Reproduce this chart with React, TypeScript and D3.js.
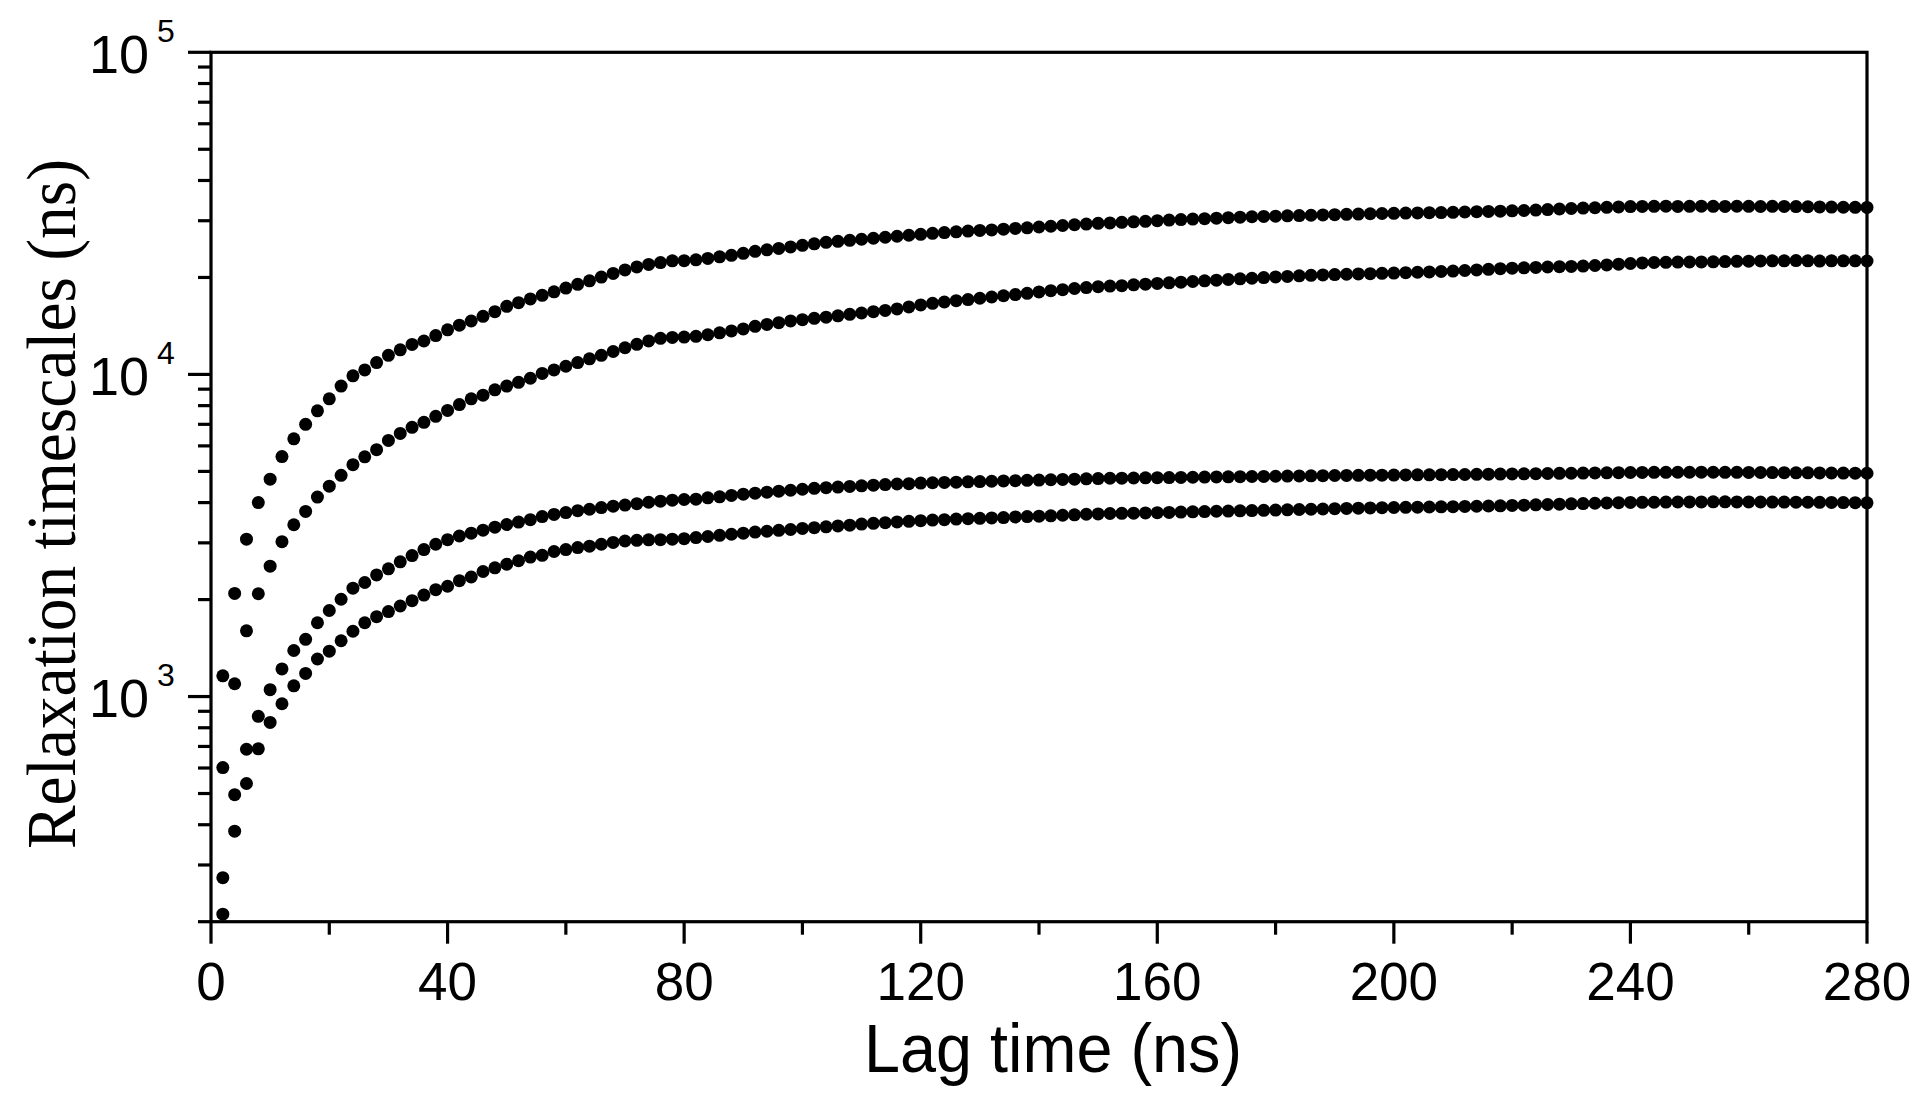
import React from "react";
import * as d3 from "d3";

// Lag times (ns): one sample every 2 ns from 2 to 280
const lagTimes: number[] = d3.range(2, 281, 2);

// Relaxation timescales (ns), four series (top to bottom)
const seriesA: number[] = [
  1160, 2090, 3080, 4000, 4730, 5560, 6310, 7000, 7710, 8400,
  9200, 9900, 10330, 10880, 11460, 11920, 12390, 12700, 13200, 13750,
  14220, 14650, 15150, 15660, 16270, 16700, 17160, 17600, 18050, 18540,
  19040, 19520, 20050, 20580, 21110, 21570, 21960, 22250, 22520, 22550,
  22680, 22920, 23170, 23420, 23760, 24100, 24360, 24620, 24880, 25160,
  25430, 25710, 25900, 26080, 26280, 26470, 26660, 26850, 27040, 27230,
  27420, 27560, 27720, 27860, 27990, 28100, 28240, 28400, 28510, 28680,
  28840, 29000, 29150, 29300, 29440, 29540,
  29650, 29760, 29880, 30010, 30140, 30240, 30350, 30450, 30560, 30670,
  30780, 30870, 30930, 31000, 31070, 31130, 31200, 31270, 31330, 31400,
  31470, 31530, 31590, 31630, 31680, 31720, 31770, 31810, 31860, 31930,
  32000, 32060, 32130, 32200, 32270, 32380, 32500, 32620, 32740, 32830,
  32920, 33020, 33110, 33190, 33230, 33250, 33280, 33230, 33260, 33300,
  33250, 33220, 33270, 33250, 33210, 33260, 33240, 33200, 33150, 33120,
  33080, 33040, 33010, 33000,
];

const seriesB: number[] = [
  602, 1096, 1600, 2085, 2540, 3025, 3415, 3755, 4160, 4500,
  4860, 5245, 5550, 5840, 6240, 6560, 6850, 7100, 7410, 7730,
  8060, 8400, 8620, 8960, 9200, 9450, 9730, 10070, 10330, 10600,
  10880, 11180, 11460, 11780, 12100, 12400, 12710, 12940, 13030, 13060,
  13130, 13280, 13460, 13650, 13840, 14100, 14300, 14480, 14660, 14790,
  14930, 15060, 15200, 15370, 15510, 15660, 15800, 15970, 16200, 16440,
  16620, 16780, 16940, 17080, 17240, 17390, 17550, 17700, 17860, 18030,
  18200, 18330, 18480, 18610, 18720, 18800,
  18860, 18970, 19060, 19160, 19250, 19330, 19430, 19520, 19620, 19720,
  19800, 19890, 19980, 20070, 20150, 20240, 20300, 20360, 20420, 20460,
  20510, 20550, 20600, 20640, 20700, 20760, 20810, 20870, 20930, 21020,
  21110, 21200, 21290, 21370, 21430, 21490, 21550, 21600, 21640, 21700,
  21780, 21880, 21990, 22100, 22190, 22260, 22290, 22320, 22340, 22350,
  22370, 22400, 22440, 22470, 22500, 22520, 22530, 22560, 22520, 22490,
  22520, 22530, 22520, 22500,
];

const seriesC: number[] = [
  274, 496, 686, 868, 1050, 1218, 1390, 1505, 1695, 1850,
  2005, 2170, 2260, 2385, 2492, 2620, 2740, 2860, 2970, 3070,
  3150, 3215, 3285, 3355, 3420, 3480, 3540, 3620, 3675, 3725,
  3775, 3815, 3860, 3900, 3930, 3970, 4010, 4040, 4070, 4090,
  4100, 4140, 4170, 4210, 4250, 4280, 4310, 4340, 4370, 4400,
  4430, 4450, 4470, 4490, 4510, 4530, 4550, 4570, 4580, 4600,
  4610, 4620, 4630, 4640, 4650, 4660, 4670, 4680, 4690, 4700,
  4710, 4720, 4730, 4740, 4750, 4760,
  4765, 4770, 4775, 4780, 4785, 4790, 4795, 4800, 4805, 4810,
  4815, 4820, 4825, 4830, 4835, 4840, 4845, 4850, 4855, 4858,
  4860, 4865, 4868, 4870, 4875, 4878, 4880, 4885, 4888, 4890,
  4895, 4900, 4905, 4910, 4915, 4920, 4925, 4930, 4935, 4940,
  4945, 4950, 4955, 4960, 4962, 4965, 4968, 4970, 4970, 4972,
  4970, 4968, 4965, 4962, 4960, 4958, 4955, 4950, 4948, 4945,
  4942, 4940, 4938, 4935,
];

const seriesD: number[] = [
  211, 382, 537, 688, 831, 950, 1080, 1180, 1308, 1383,
  1490, 1595, 1695, 1770, 1835, 1910, 1985, 2065, 2146, 2200,
  2290, 2350, 2445, 2510, 2575, 2640, 2710, 2745, 2820, 2860,
  2900, 2930, 2970, 3010, 3040, 3055, 3065, 3070, 3080, 3090,
  3115, 3140, 3165, 3190, 3215, 3240, 3260, 3280, 3300, 3325,
  3345, 3365, 3385, 3405, 3430, 3450, 3465, 3485, 3500, 3515,
  3530, 3540, 3555, 3565, 3575, 3585, 3595, 3610, 3620, 3630,
  3640, 3655, 3665, 3680, 3690, 3700,
  3705, 3710, 3715, 3722, 3730, 3738, 3745, 3752, 3760, 3766,
  3772, 3779, 3786, 3793, 3800, 3808, 3815, 3822, 3830, 3837,
  3845, 3852, 3858, 3862, 3867, 3871, 3876, 3880, 3886, 3892,
  3898, 3904, 3910, 3919, 3928, 3937, 3946, 3955, 3965, 3973,
  3981, 3989, 3997, 4005, 4008, 4011, 4014, 4017, 4020, 4021,
  4022, 4022, 4021, 4020, 4018, 4016, 4014, 4012, 4010, 4007,
  4004, 4001, 3998, 3995,
];

const allSeries: number[][] = [seriesA, seriesB, seriesC, seriesD];

// Axis ticks
const xMajorTicks: number[] = [0, 40, 80, 120, 160, 200, 240, 280];
const xMinorTicks: number[] = [20, 60, 100, 140, 180, 220, 260];
const yMajorExponents: number[] = [3, 4, 5];
const yMinorTicks: number[] = [
  200, 300, 400, 500, 600, 700, 800, 900,
  2000, 3000, 4000, 5000, 6000, 7000, 8000, 9000,
  20000, 30000, 40000, 50000, 60000, 70000, 80000, 90000,
];

const xTitle = "Lag time (ns)";
const yTitle = "Relaxation timescales (ns)";

export default function App() {
  const W = 1925;
  const H = 1109;
  const left = 211;
  const right = 1867;
  const top = 52.3;
  const bottom = 921.7;

  const x = d3.scaleLinear().domain([0, 280]).range([left, right]);
  const y = d3.scaleLog().domain([200, 100000]).range([bottom, top]);

  const sans = "'Liberation Sans', Arial, Helvetica, sans-serif";
  const serif = "'Liberation Serif', 'Times New Roman', Times, serif";
  const sw = 3.2;

  return (
    <svg
      width={W}
      height={H}
      viewBox={`0 0 ${W} ${H}`}
      style={{ position: "absolute", left: 0, top: 0, background: "#fff" }}
    >
      <rect x={0} y={0} width={W} height={H} fill="#fff" />

      {/* data points */}
      <g fill="#000">
        {allSeries.map((s, si) =>
          s.map((v, i) => (
            <circle key={`${si}-${i}`} cx={x(lagTimes[i])} cy={y(v)} r={6.5} />
          ))
        )}
      </g>

      {/* frame */}
      <rect
        x={left}
        y={top}
        width={right - left}
        height={bottom - top}
        fill="none"
        stroke="#000"
        strokeWidth={sw}
      />

      {/* ticks */}
      <g stroke="#000" strokeWidth={sw}>
        {xMajorTicks.map((t) => (
          <line key={`xM${t}`} x1={x(t)} x2={x(t)} y1={bottom} y2={bottom + 22} />
        ))}
        {xMinorTicks.map((t) => (
          <line key={`xm${t}`} x1={x(t)} x2={x(t)} y1={bottom} y2={bottom + 13} />
        ))}
        {yMajorExponents.map((e) => (
          <line
            key={`yM${e}`}
            x1={left - 23}
            x2={left}
            y1={y(Math.pow(10, e))}
            y2={y(Math.pow(10, e))}
          />
        ))}
        {yMinorTicks.map((t) => (
          <line key={`ym${t}`} x1={left - 13} x2={left} y1={y(t)} y2={y(t)} />
        ))}
      </g>

      {/* x tick labels */}
      <g fontFamily={sans} fontSize={53} fill="#000" textAnchor="middle">
        {xMajorTicks.map((t) => (
          <text key={`xl${t}`} x={x(t)} y={1000}>
            {t}
          </text>
        ))}
      </g>

      {/* y tick labels */}
      <g fontFamily={sans} fill="#000">
        {yMajorExponents.map((e) => {
          const ty = y(Math.pow(10, e));
          return (
            <g key={`yl${e}`}>
              <text x={149} y={ty + 20.5} fontSize={54} textAnchor="end">
                10
              </text>
              <text x={157} y={ty - 10.5} fontSize={32} textAnchor="start">
                {e}
              </text>
            </g>
          );
        })}
      </g>

      {/* axis titles */}
      <text
        x={1053}
        y={1072}
        fontFamily={sans}
        fontSize={68}
        textAnchor="middle"
        textLength={378}
        lengthAdjust="spacingAndGlyphs"
        fill="#000"
      >
        {xTitle}
      </text>
      <text
        transform="translate(75, 504) rotate(-90)"
        fontFamily={serif}
        fontSize={70}
        textAnchor="middle"
        textLength={690}
        lengthAdjust="spacingAndGlyphs"
        fill="#000"
      >
        {yTitle}
      </text>
    </svg>
  );
}
